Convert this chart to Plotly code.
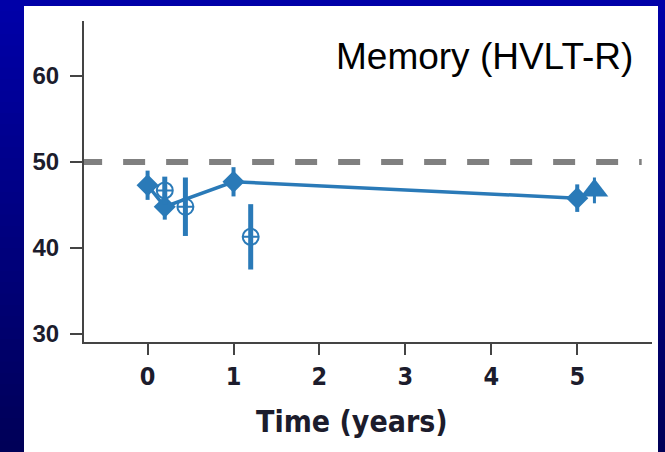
import plotly.graph_objects as go

# ---- data ----
# filled diamonds (connected by a line)
diamond_x = [0.0, 0.2, 1.0, 5.0]
diamond_y = [47.3, 44.8, 47.7, 45.8]
diamond_err = [1.7, 1.5, 1.7, 1.6]

# open circles with cross
circle_x = [0.2, 0.44, 1.2]
circle_y = [46.7, 44.8, 41.3]
circle_err = [1.6, 3.4, 3.8]

# filled triangle
tri_x = [5.2]
tri_y = [46.7]
tri_err = [1.5]

reference_y = 50
reference_x = [-0.785, 5.75]
x_ticks = [0, 1, 2, 3, 4, 5]
y_ticks = [30, 40, 50, 60]
title_text = "Memory (HVLT-R)"
x_title = "Time (years)"

BLUE = "#2a7ab8"
W, H = 665, 452
L, R, T, B = 84, 13, 21, 110
PW, PH = W - L - R, H - T - B
COND = "Liberation Sans Narrow, DejaVu Sans Condensed, Arial Narrow, sans-serif"


def px_x(px):
    return (px - L) / PW


def px_y(py):
    return (H - B - py) / PH


fig = go.Figure()

# reference line
fig.add_trace(go.Scatter(
    x=reference_x, y=[reference_y, reference_y], mode="lines",
    line=dict(color="#808080", width=6, dash="22px,21px"),
    hoverinfo="skip", showlegend=False))

fig.add_trace(go.Scatter(
    x=diamond_x, y=diamond_y, mode="lines+markers",
    line=dict(color=BLUE, width=3.5),
    marker=dict(symbol="diamond", size=17, color=BLUE),
    error_y=dict(type="data", array=diamond_err, color=BLUE, thickness=4, width=0),
    showlegend=False))

fig.add_trace(go.Scatter(
    x=circle_x, y=circle_y, mode="markers",
    marker=dict(symbol="circle-cross-open", size=16, color=BLUE,
                line=dict(color=BLUE, width=2)),
    error_y=dict(type="data", array=circle_err, color=BLUE, thickness=5, width=0),
    showlegend=False))

fig.add_trace(go.Scatter(
    x=tri_x, y=tri_y, mode="markers",
    marker=dict(symbol="triangle-up", size=24, color=BLUE),
    error_y=dict(type="data", array=tri_err, color=BLUE, thickness=3, width=0),
    showlegend=False))

# background: blue vertical gradient + white panel
shapes = []
n = 40
top = (0, 0, 168)
bot = (0, 0, 88)
for i in range(n):
    f = i / (n - 1)
    c = tuple(int(round(top[k] + (bot[k] - top[k]) * f)) for k in range(3))
    y0 = i * H / n
    y1 = (i + 1) * H / n + 1
    shapes.append(dict(type="rect", xref="paper", yref="paper",
                       x0=px_x(0), x1=px_x(W), y0=px_y(y1), y1=px_y(y0),
                       fillcolor="rgb(%d,%d,%d)" % c, line=dict(width=0),
                       layer="below"))
shapes.append(dict(type="rect", xref="paper", yref="paper",
                   x0=px_x(24), x1=px_x(658), y0=px_y(H + 2), y1=px_y(6),
                   fillcolor="white", line=dict(width=0), layer="below"))

fig.update_layout(
    width=W, height=H,
    margin=dict(l=L, r=R, t=T, b=B, autoexpand=False),
    paper_bgcolor="rgb(0,0,128)",
    plot_bgcolor="white",
    shapes=shapes,
    showlegend=False,
    annotations=[
        dict(text=title_text, xref="paper", yref="paper",
             x=px_x(635), y=px_y(56), xanchor="right", yanchor="middle",
             showarrow=False,
             font=dict(family="Liberation Sans, Arial", size=37, color="#000")),
        dict(text=x_title, xref="paper", yref="paper",
             x=px_x(352), y=px_y(421), xanchor="center", yanchor="middle",
             showarrow=False,
             font=dict(family=COND, size=30, color="#1c1c2c", weight=600)),
    ],
)

fig.update_xaxes(
    automargin=False,
    range=[-0.74, 5.87], tickvals=x_ticks, ticktext=[str(v) for v in x_ticks],
    showgrid=False, zeroline=False,
    showline=True, linecolor="#444", linewidth=2,
    ticks="outside", ticklen=11, tickwidth=2, tickcolor="#444",
    tickfont=dict(family=COND, size=25, color="#1c1c2c", weight=600),
)
fig.update_yaxes(
    automargin=False,
    range=[29.07, 66.4], tickvals=y_ticks, ticktext=[str(v) for v in y_ticks],
    showgrid=False, zeroline=False,
    showline=True, linecolor="#444", linewidth=2,
    ticks="outside", ticklen=12, tickwidth=2, tickcolor="#444",
    ticklabelstandoff=6,
    tickfont=dict(family="Liberation Sans, Arial", size=24, color="#1c1c2c", weight=600),
)

fig.write_html("out.html", config={"displayModeBar": False},
               post_script="document.body.style.margin='0';document.body.style.overflow='hidden';")
